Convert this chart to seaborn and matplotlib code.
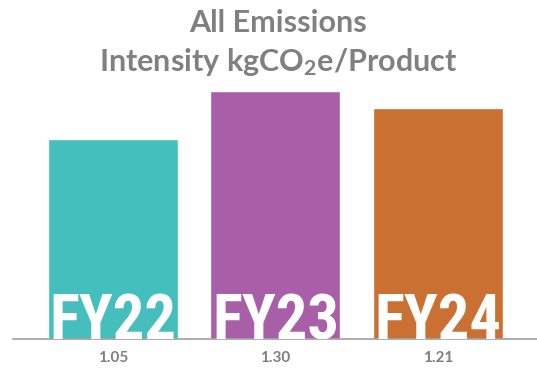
import matplotlib
matplotlib.use("Agg")
import matplotlib.pyplot as plt
import seaborn as sns
import pandas as pd

# Emissions intensity by financial year
years = ["FY22", "FY23", "FY24"]
intensity = [1.05, 1.30, 1.21]
bar_colors = ["#45BFBD", "#A95FA8", "#CB7033"]

sns.set_theme(style="white")
plt.rcParams["font.family"] = ["Lato", "DejaVu Sans"]
plt.rcParams["mathtext.default"] = "regular"

df = pd.DataFrame({"year": years, "intensity": intensity})

fig = plt.figure(figsize=(5.37, 3.68), dpi=100)
ax = fig.add_axes([13 / 537, 29 / 368, 524 / 537, 339 / 368])

sns.barplot(data=df, x="year", y="intensity", hue="year", palette=bar_colors,
            saturation=1, width=0.8, legend=False, ax=ax)

ax.set_xlim(-0.615, 2.609)
ax.set_ylim(0, 1.777)

# year labels drawn inside the bars, sitting on the baseline
for i, yr in enumerate(years):
    ax.text(i, 0.0, yr, ha="center", va="baseline", color="white",
            fontsize=45, fontweight="bold",
            family=["Liberation Sans Narrow", "Roboto Condensed", "Roboto", "DejaVu Sans"],
            clip_on=True)

# values shown as the category labels under the axis
ax.set_xticks(range(len(years)))
ax.set_xticklabels([f"{v:.2f}" for v in intensity], color="#7F7F7F",
                   fontsize=11, fontweight="bold")
ax.tick_params(axis="x", length=0, pad=9)
ax.set_yticks([])
ax.set_xlabel("")
ax.set_ylabel("")

for side in ["top", "left", "right"]:
    ax.spines[side].set_visible(False)
ax.spines["bottom"].set_color("#A0A0A0")
ax.spines["bottom"].set_linewidth(1.2)

title_kw = dict(ha="center", va="baseline", color="#808080", fontsize=22, fontweight="bold")
fig.text(278 / 537, 1 - 32 / 368, "All Emissions", **title_kw)
fig.text(278 / 537, 1 - 71 / 368, r"Intensity kgCO$_2$e/Product", **title_kw)

fig.savefig("out.png", dpi=100)
